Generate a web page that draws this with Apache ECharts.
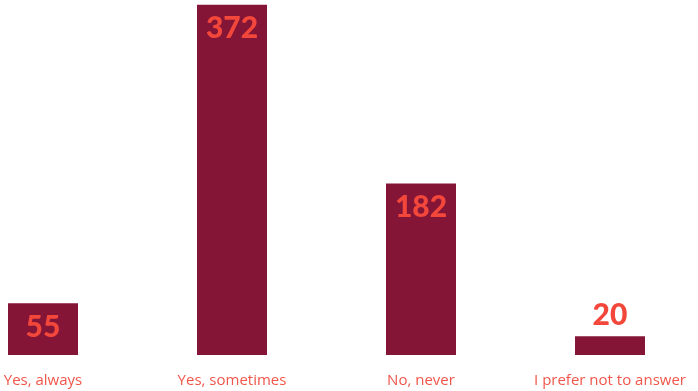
<!DOCTYPE html>
<html>
<head>
<meta charset="utf-8">
<script src="https://cdn.jsdelivr.net/npm/echarts@6/dist/echarts.min.js"></script>
<style>
html,body{margin:0;padding:0;background:#fff;}
#c{width:698px;height:391px;}
</style>
</head>
<body>
<div id="c"></div>
<script>
const categories = ["Yes, always", "Yes, sometimes", "No, never", "I prefer not to answer"];
const values = [55, 372, 182, 20];

const chart = echarts.init(document.getElementById('c'), null, {renderer: 'canvas'});
chart.setOption({
  animation: false,
  grid: {left: -51.5, width: 756, top: 0, bottom: 36, containLabel: false, outerBoundsMode: 'none'},
  xAxis: {
    type: 'category',
    data: categories,
    axisLine: {show: false},
    axisTick: {show: false},
    axisLabel: {color: '#f0564a', fontSize: 15, fontFamily: 'Open Sans', margin: 18, interval: 0}
  },
  yAxis: {
    type: 'value', min: 0, max: 377,
    show: false, splitLine: {show: false}
  },
  series: [{
    type: 'bar',
    data: values.map((v, i) => ({
      value: v,
      label: i === 3 ? {position: 'top', distance: 6} : {position: 'insideTop', distance: 9}
    })),
    barWidth: 70,
    itemStyle: {color: '#841537'},
    label: {
      show: true,
      color: '#f2473a',
      fontSize: 30,
      fontWeight: 900,
      fontFamily: 'Lato'
    }
  }]
});
</script>
</body>
</html>
